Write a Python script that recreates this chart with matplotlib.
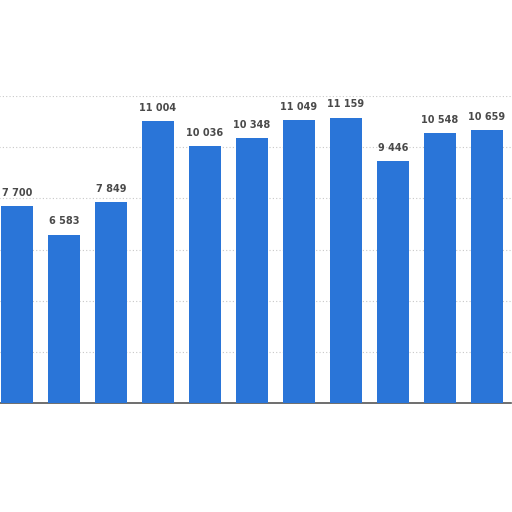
import matplotlib
matplotlib.use("Agg")
import matplotlib.pyplot as plt

categories = ["1", "2", "3", "4", "5", "6", "7", "8", "9", "10", "11"]
values = [7700, 6583, 7849, 11004, 10036, 10348, 11049, 11159, 9446, 10548, 10659]
labels = ["7 700", "6 583", "7 849", "11 004", "10 036", "10 348", "11 049", "11 159", "9 446", "10 548", "10 659"]

fig = plt.figure(figsize=(5.12, 5.12), dpi=100)
fig.patch.set_facecolor("white")
ax = fig.add_axes([-6.5 / 512, 109 / 512, 517 / 512, 307 / 512])
x = list(range(len(values)))
ax.bar(x, values, width=0.68, color="#2a75d8", zorder=3)
ax.set_xlim(-0.5, len(values) - 0.5)
ax.set_ylim(0, 12000)
ax.set_yticks([2000, 4000, 6000, 8000, 10000, 12000])
ax.yaxis.grid(True, linestyle=(0, (1, 2)), color="#c8c8c8", linewidth=0.8, zorder=0)
ax.set_xticks([])
ax.tick_params(left=False, labelleft=False)
for s in ["left", "right", "top"]:
    ax.spines[s].set_visible(False)
ax.spines["bottom"].set_color("#555555")
ax.spines["bottom"].set_linewidth(1.2)
for xi, v, lab in zip(x, values, labels):
    ax.annotate(lab, (xi, v), xytext=(0, 6), textcoords="offset points",
                ha="center", va="bottom", fontsize=7, fontweight="bold", color="#4a4a4a")
fig.savefig("out.png", dpi=100)
